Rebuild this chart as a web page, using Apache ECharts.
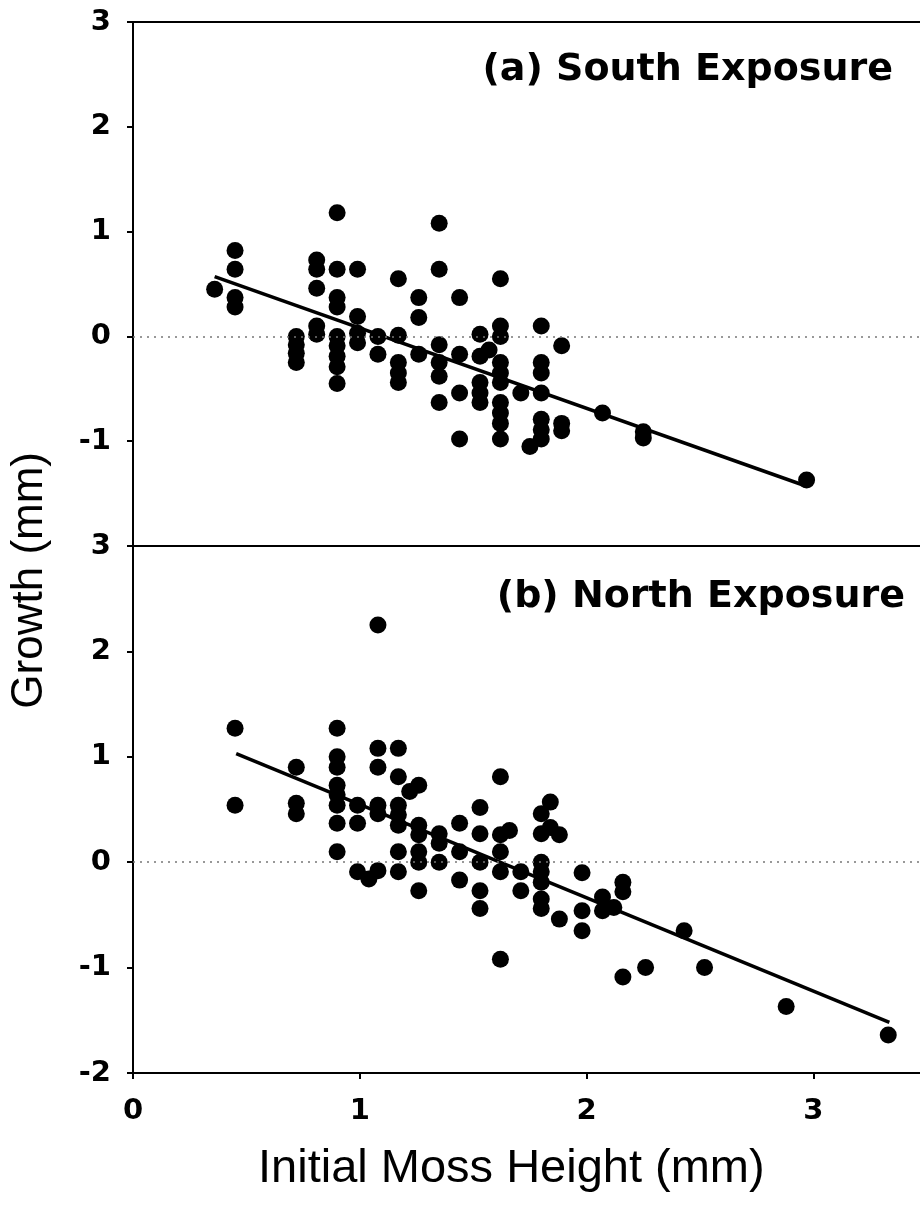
<!DOCTYPE html>
<html>
<head>
<meta charset="utf-8">
<script src="https://cdn.jsdelivr.net/npm/echarts@6/dist/echarts.min.js"></script>
<style>
  html, body { margin: 0; padding: 0; background: #fff; }
  #chart { width: 920px; height: 1205px; }
</style>
</head>
<body>
<div id="chart"></div>
<script>
// 读图估计的数据 (x = 初始高度 mm, y = 生长 mm)
const southPoints = [
    [0.36, 0.45],
    [0.45, 0.82], [0.45, 0.64], [0.45, 0.37], [0.45, 0.28],
    [0.72, 0.0], [0.72, -0.08], [0.72, -0.16], [0.72, -0.25],
    [0.81, 0.73], [0.81, 0.64], [0.81, 0.46], [0.81, 0.10], [0.81, 0.02],
    [0.90, 1.18], [0.90, 0.64], [0.90, 0.37], [0.90, 0.28], [0.90, 0.0], [0.90, -0.09], [0.90, -0.19], [0.90, -0.29], [0.90, -0.45],
    [0.99, 0.64], [0.99, 0.19], [0.99, 0.03], [0.99, -0.06],
    [1.08, 0.0], [1.08, -0.17],
    [1.17, 0.55], [1.17, 0.01], [1.17, -0.25], [1.17, -0.35], [1.17, -0.44],
    [1.26, 0.37], [1.26, 0.18], [1.26, -0.17],
    [1.35, 1.08], [1.35, 0.64], [1.35, -0.08], [1.35, -0.25], [1.35, -0.38], [1.35, -0.63],
    [1.44, 0.37], [1.44, -0.17], [1.44, -0.54], [1.44, -0.98],
    [1.53, 0.02], [1.53, -0.19], [1.53, -0.44], [1.53, -0.54], [1.53, -0.63],
    [1.57, -0.13],
    [1.62, 0.55], [1.62, 0.10], [1.62, 0.0], [1.62, -0.25], [1.62, -0.35], [1.62, -0.44], [1.62, -0.63], [1.62, -0.73], [1.62, -0.83], [1.62, -0.98],
    [1.71, -0.54],
    [1.75, -1.05],
    [1.80, 0.10], [1.80, -0.25], [1.80, -0.35], [1.80, -0.54], [1.80, -0.79], [1.80, -0.89], [1.80, -0.98],
    [1.89, -0.09], [1.89, -0.83], [1.89, -0.90],
    [2.07, -0.73],
    [2.25, -0.91], [2.25, -0.97],
    [2.97, -1.37]
];
const northPoints = [
    [0.45, 1.27], [0.45, 0.54],
    [0.72, 0.90], [0.72, 0.56], [0.72, 0.46],
    [0.90, 1.27], [0.90, 1.00], [0.90, 0.90], [0.90, 0.73], [0.90, 0.64], [0.90, 0.54], [0.90, 0.37], [0.90, 0.10],
    [0.99, 0.54], [0.99, 0.37], [0.99, -0.09],
    [1.04, -0.16],
    [1.08, 2.25], [1.08, 1.08], [1.08, 0.90], [1.08, 0.54], [1.08, 0.46], [1.08, -0.08],
    [1.17, 1.08], [1.17, 0.81], [1.17, 0.54], [1.17, 0.45], [1.17, 0.35], [1.17, 0.10], [1.17, -0.09],
    [1.22, 0.67],
    [1.26, 0.73], [1.26, 0.35], [1.26, 0.26], [1.26, 0.10], [1.26, 0.0], [1.26, -0.27],
    [1.35, 0.27], [1.35, 0.18], [1.35, 0.0],
    [1.44, 0.37], [1.44, 0.10], [1.44, -0.17],
    [1.53, 0.52], [1.53, 0.27], [1.53, 0.0], [1.53, -0.27], [1.53, -0.44],
    [1.62, 0.81], [1.62, 0.26], [1.62, 0.10], [1.62, -0.09], [1.62, -0.92],
    [1.66, 0.30],
    [1.71, -0.09], [1.71, -0.27],
    [1.80, 0.46], [1.80, 0.27], [1.80, 0.0], [1.80, -0.09], [1.80, -0.19], [1.80, -0.35], [1.80, -0.44],
    [1.84, 0.57], [1.84, 0.33],
    [1.88, 0.26], [1.88, -0.54],
    [1.98, -0.10], [1.98, -0.46], [1.98, -0.65],
    [2.07, -0.33], [2.07, -0.46],
    [2.12, -0.43],
    [2.16, -0.19], [2.16, -0.28], [2.16, -1.09],
    [2.26, -1.0],
    [2.43, -0.65],
    [2.52, -1.0],
    [2.88, -1.37],
    [3.33, -1.64]
];
// 回归线端点
const southFit = [[0.36, 0.57], [2.97, -1.43]];
const northFit = [[0.455, 1.03], [3.335, -1.52]];

const xTicks = [0, 1, 2, 3];
const xMax = 3.47;
const yMin = -2, yMax = 3;

const FONT = 'Liberation Sans, Arial, sans-serif';
const BOLD_FONT = 'DejaVu Sans, Liberation Sans, sans-serif';
const black = '#000';

const chart = echarts.init(document.getElementById('chart'), null, { renderer: 'canvas' });

const lineAxis = { lineStyle: { color: black, width: 2 } };

function yAxisFor(gridIndex, showMin) {
    return {
        type: 'value', gridIndex, min: yMin, max: yMax, interval: 1,
        axisLine: { show: true, onZero: false, ...lineAxis },
        axisTick: { show: true, inside: false, length: 6, lineStyle: { color: black, width: 2 } },
        axisLabel: { show: true, showMinLabel: showMin, color: black, fontFamily: BOLD_FONT, fontWeight: 'bold', fontSize: 29, margin: 22 },
        splitLine: { show: false }
    };
}

const zeroLine = {
    silent: true, symbol: ['none', 'none'], label: { show: false },
    lineStyle: { type: [2, 5], color: '#777', width: 1.5 },
    data: [{ yAxis: 0 }]
};

const dot = { symbol: 'circle', symbolSize: 17, itemStyle: { color: black, opacity: 1 } };

const option = {
    backgroundColor: '#fff',
    animation: false,
    grid: [
        { left: 133, right: 0, top: 22, height: 524 },
        { left: 133, right: 0, top: 546, height: 527 }
    ],
    xAxis: [
        { type: 'value', gridIndex: 0, min: 0, max: xMax, position: 'bottom',
          axisLine: { show: true, onZero: false, ...lineAxis }, axisTick: { show: false }, axisLabel: { show: false }, splitLine: { show: false } },
        { type: 'value', gridIndex: 0, min: 0, max: xMax, position: 'top',
          axisLine: { show: true, onZero: false, ...lineAxis }, axisTick: { show: false }, axisLabel: { show: false }, splitLine: { show: false } },
        { type: 'value', gridIndex: 1, min: 0, max: xMax, position: 'bottom',
          axisLine: { show: true, onZero: false, ...lineAxis },
          axisTick: { show: true, customValues: xTicks, length: 6, lineStyle: { color: black, width: 2 } },
          axisLabel: { show: true, customValues: xTicks, color: black, fontFamily: BOLD_FONT, fontWeight: 'bold', fontSize: 29, margin: 24 },
          splitLine: { show: false } }
    ],
    yAxis: [yAxisFor(0, false), yAxisFor(1, true)],
    series: [
        { name: 'South', type: 'scatter', xAxisIndex: 0, yAxisIndex: 0, data: southPoints, ...dot, markLine: zeroLine, z: 3 },
        { name: 'South fit', type: 'line', xAxisIndex: 0, yAxisIndex: 0, data: southFit, symbol: 'none',
          lineStyle: { color: black, width: 3.5 }, z: 4 },
        { name: 'North', type: 'scatter', xAxisIndex: 2, yAxisIndex: 1, data: northPoints, ...dot, markLine: zeroLine, z: 3 },
        { name: 'North fit', type: 'line', xAxisIndex: 2, yAxisIndex: 1, data: northFit, symbol: 'none',
          lineStyle: { color: black, width: 3.5 }, z: 4 }
    ],
    graphic: [
        { type: 'text', right: 27, top: 51, style: { text: '(a) South Exposure', fill: black, font: 'bold 38px ' + BOLD_FONT } },
        { type: 'text', right: 15, top: 578, style: { text: '(b) North Exposure', fill: black, font: 'bold 38px ' + BOLD_FONT } },
        { type: 'text', left: 8, top: 452, rotation: Math.PI / 2,
          style: { text: 'Growth (mm)', fill: black, font: '44px ' + FONT } },
        { type: 'text', left: 258, top: 1146, style: { text: 'Initial Moss Height (mm)', fill: black, font: '47px ' + FONT } }
    ]
};
chart.setOption(option);
</script>
</body>
</html>
